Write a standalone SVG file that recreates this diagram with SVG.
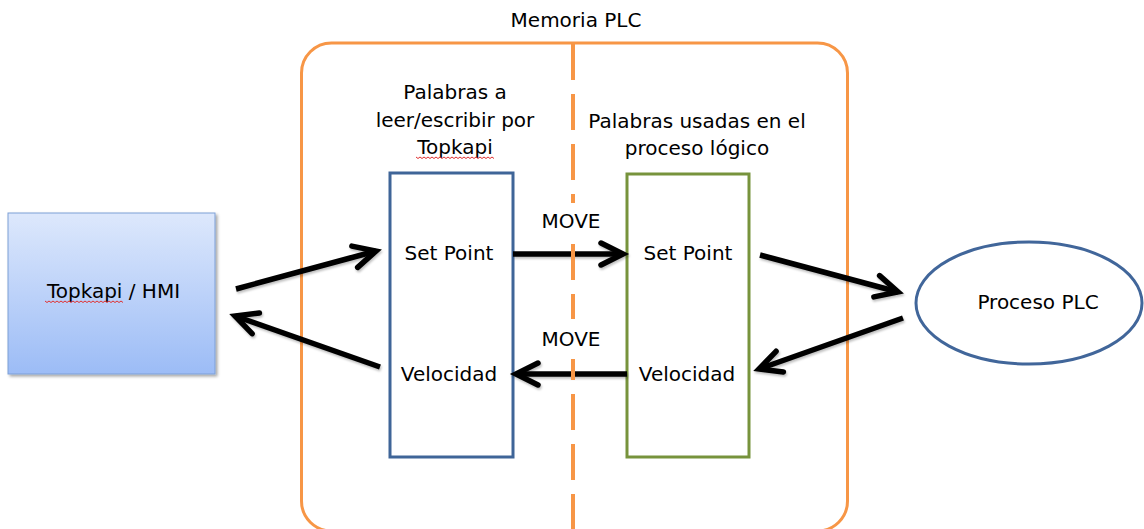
<svg xmlns="http://www.w3.org/2000/svg" width="1144" height="529" viewBox="0 0 1144 529">
  <style>
    .t { font-family: "DejaVu Sans", Verdana, sans-serif; font-size: 20px; fill: #000; }
    .c { text-anchor: middle; }
    .arrow { fill: none; stroke: #000; stroke-width: 5.5; marker-end: url(#head); }
    .squig { fill: none; stroke: #e03030; stroke-width: 1; }
  </style>
  <defs>
    <linearGradient id="hmiGrad" x1="0" y1="0" x2="0" y2="1">
      <stop offset="0" stop-color="#dde8fc"/>
      <stop offset="1" stop-color="#9cbcf6"/>
    </linearGradient>
    <filter id="shadow" x="-10%" y="-10%" width="130%" height="130%">
      <feDropShadow dx="2" dy="2" stdDeviation="1.5" flood-color="#000" flood-opacity="0.35"/>
    </filter>
    <filter id="lshadow" x="-10%" y="-20%" width="130%" height="150%">
      <feDropShadow dx="1" dy="2" stdDeviation="1" flood-color="#000" flood-opacity="0.25"/>
    </filter>
    <marker id="head" viewBox="-30 -20 40 40" markerWidth="40" markerHeight="40" refX="0" refY="0" orient="auto" markerUnits="userSpaceOnUse">
      <path d="M-22,-11 L0,0 L-22,11" fill="none" stroke="#000" stroke-width="5.5" stroke-linecap="round" stroke-linejoin="miter"/>
    </marker>
  </defs>

  <rect width="1144" height="529" fill="#fff"/>

  <g id="memoria-plc">
    <rect x="301.5" y="43" width="546" height="488" rx="30" ry="30" fill="none" stroke="#f79646" stroke-width="3"/>
    <text class="t c" x="576" y="27">Memoria PLC</text>
  </g>

  <g id="topkapi-hmi">
    <rect x="8" y="213" width="207" height="161" fill="url(#hmiGrad)" stroke="#7d9fd6" stroke-width="1" filter="url(#shadow)"/>
    <text class="t c" x="113.5" y="298">Topkapi / HMI</text>
    <path class="squig" d="M45,301 l2,1.5 l2,-1.5 l2,1.5 l2,-1.5 l2,1.5 l2,-1.5 l2,1.5 l2,-1.5 l2,1.5 l2,-1.5 l2,1.5 l2,-1.5 l2,1.5 l2,-1.5 l2,1.5 l2,-1.5 l2,1.5 l2,-1.5 l2,1.5 l2,-1.5 l2,1.5 l2,-1.5 l2,1.5 l2,-1.5 l2,1.5 l2,-1.5 l2,1.5 l2,-1.5 l2,1.5 l2,-1.5 l2,1.5 l2,-1.5 l2,1.5 l2,-1.5 l2,1.5 l2,-1.5 l2,1.5 l2,-1.5 l2,1.5"/>
  </g>

  <g id="palabras-topkapi">
    <text class="t c" x="455" y="99">Palabras a</text>
    <text class="t c" x="455" y="127">leer/escribir por</text>
    <text class="t c" x="455" y="154">Topkapi</text>
    <path class="squig" d="M416,157 l2,1.5 l2,-1.5 l2,1.5 l2,-1.5 l2,1.5 l2,-1.5 l2,1.5 l2,-1.5 l2,1.5 l2,-1.5 l2,1.5 l2,-1.5 l2,1.5 l2,-1.5 l2,1.5 l2,-1.5 l2,1.5 l2,-1.5 l2,1.5 l2,-1.5 l2,1.5 l2,-1.5 l2,1.5 l2,-1.5 l2,1.5 l2,-1.5 l2,1.5 l2,-1.5 l2,1.5 l2,-1.5 l2,1.5 l2,-1.5 l2,1.5 l2,-1.5 l2,1.5 l2,-1.5 l2,1.5 l2,-1.5 l2,1.5"/>
    <rect x="390" y="173" width="123" height="284" fill="none" stroke="#3f6598" stroke-width="3"/>
    <text class="t c" x="449" y="260">Set Point</text>
    <text class="t c" x="449" y="381">Velocidad</text>
  </g>

  <g id="palabras-proceso">
    <text class="t c" x="697" y="128">Palabras usadas en el</text>
    <text class="t c" x="697" y="155">proceso lógico</text>
    <rect x="627" y="174" width="122" height="283" fill="none" stroke="#77933c" stroke-width="3"/>
    <text class="t c" x="688" y="260">Set Point</text>
    <text class="t c" x="687" y="381">Velocidad</text>
  </g>

  <g id="proceso-plc">
    <ellipse cx="1029" cy="303" rx="113" ry="61" fill="none" stroke="#41669a" stroke-width="3"/>
    <text class="t c" x="1038" y="309">Proceso PLC</text>
  </g>

  <g id="connectors" filter="url(#lshadow)">
    <line class="arrow" x1="236" y1="289" x2="376" y2="251"/>
    <line class="arrow" x1="380" y1="367" x2="235" y2="316"/>
    <line class="arrow" x1="513" y1="254" x2="623" y2="254"/>
    <line class="arrow" x1="627" y1="374" x2="516" y2="374"/>
    <line class="arrow" x1="760" y1="255" x2="898" y2="292"/>
    <line class="arrow" x1="903" y1="318" x2="759" y2="369"/>
  </g>

  <g id="divider">
    <path d="M573,44V80 M573,94V130 M573,144V180 M573,194V203 M573,244V280 M573,294V319 M573,359V380 M573,394V430 M573,444V480 M573,494V529" fill="none" stroke="#f79646" stroke-width="4"/>
  </g>

  <g id="move-labels">
    <text class="t c" x="571" y="228">MOVE</text>
    <text class="t c" x="571" y="346">MOVE</text>
  </g>
</svg>
